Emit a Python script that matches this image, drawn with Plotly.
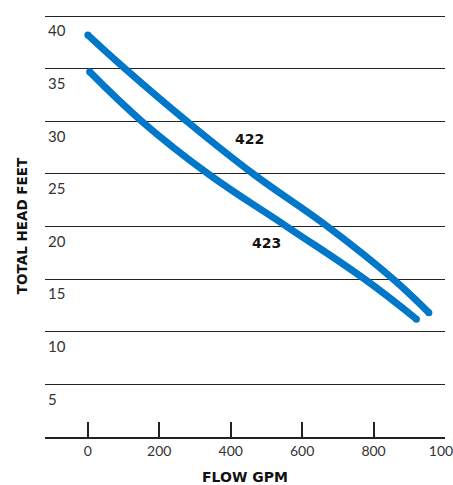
import plotly.graph_objects as go

# Data
flow_422 = [0, 104, 277, 463, 671, 855, 955]
head_422 = [38.2, 35.0, 30.0, 25.0, 20.0, 15.0, 11.8]

flow_423 = [5, 151, 337, 557, 775, 920]
head_423 = [34.7, 30.0, 25.0, 20.0, 15.0, 11.2]

x_ticks = [0, 200, 400, 600, 800, 1000]
x_tick_labels = ["0", "200", "400", "600", "800", "1000"]
y_ticks = [5, 10, 15, 20, 25, 30, 35, 40]
y_tick_labels = ["5", "10", "15", "20", "25", "30", "35", "40"]

series_labels = ["422", "423"]
label_pos_x = [452, 499]
label_pos_y = [28.3, 18.4]

BLUE = "#0077C8"
DARK = "#222222"
BOLD_FONT = "DejaVu Sans"

fig = go.Figure()
for fx, hy in [(flow_422, head_422), (flow_423, head_423)]:
    fig.add_trace(go.Scatter(
        x=fx, y=hy, mode="lines",
        line=dict(color=BLUE, width=7, shape="spline", smoothing=1.2),
        hoverinfo="skip", showlegend=False,
    ))
    # round end caps
    fig.add_trace(go.Scatter(
        x=[fx[0], fx[-1]], y=[hy[0], hy[-1]], mode="markers",
        marker=dict(color=BLUE, size=7, line=dict(width=0)),
        hoverinfo="skip", showlegend=False,
    ))

for txt, lx, ly in zip(series_labels, label_pos_x, label_pos_y):
    fig.add_annotation(x=lx, y=ly, text=txt, showarrow=False,
                       font=dict(family=BOLD_FONT, size=14, color="#111111", weight="bold"))

fig.update_layout(
    width=453, height=485,
    margin=dict(l=45, r=8, t=15, b=48),
    paper_bgcolor="white", plot_bgcolor="white",
    font=dict(family="Lato", color=DARK),
    xaxis=dict(
        range=[-120, 1000], tickvals=x_ticks, ticktext=x_tick_labels,
        showgrid=False, zeroline=False, automargin=False,
        showline=True, linecolor=DARK, linewidth=1.5,
        ticks="inside", ticklen=15, tickwidth=1.5, tickcolor=DARK,
        ticklabeloverflow="allow",
        tickfont=dict(family="Lato", size=14, color="#333333"),
        title=dict(text="FLOW GPM", standoff=26,
                   font=dict(family=BOLD_FONT, size=14, color="#111111", weight="bold")),
    ),
    yaxis=dict(
        range=[0, 40.1], tickvals=y_ticks, ticktext=y_tick_labels,
        showgrid=True, gridcolor=DARK, gridwidth=1.3, zeroline=False,
        showline=False, ticks="", automargin=False,
        ticklabelposition="inside", ticklabelshift=15, ticklabelstandoff=0,
        tickfont=dict(family="Lato", size=15, color="#333333"),
        title=dict(text="TOTAL HEAD FEET", standoff=17,
                   font=dict(family=BOLD_FONT, size=13.5, color="#111111", weight="bold")),
    ),
)

fig.write_html("out.html", config={"displayModeBar": False},
               post_script="document.body.style.margin='0';")
